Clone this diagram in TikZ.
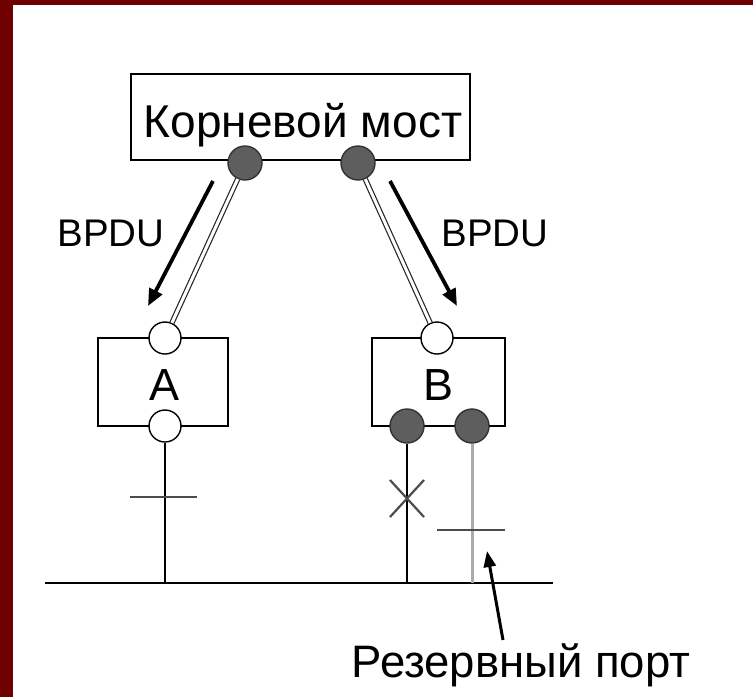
\documentclass[tikz,border=0pt]{standalone}
\usepackage{fontspec}
\setmainfont{Liberation Sans}
\usetikzlibrary{arrows.meta}
\definecolor{frame}{HTML}{6F0000}
\definecolor{portdark}{HTML}{5E5E5E}
\definecolor{backup}{HTML}{AAAAAA}
\tikzset{
  box/.style={draw, line width=2.6pt, fill=white, inner sep=0pt},
  portw/.style={circle, draw, line width=1.4pt, fill=white, minimum size=32pt, inner sep=0pt},
  portd/.style={circle, draw=black!80, line width=1.4pt, fill=portdark, minimum size=34pt, inner sep=0pt},
  link/.style={draw=black!85, line width=1.2pt, double=white, double distance=3pt},
  flow/.style={line width=3.8pt, -{Triangle[length=17pt,width=14pt]}},
  wire/.style={line width=2.8pt},
  tick/.style={line width=1.8pt, draw=black!70},
  lbl/.style={inner sep=0pt, anchor=base}
}
\begin{document}
\begin{tikzpicture}[x=1pt,y=-1pt]
\useasboundingbox (0,0) rectangle (753,697);
\fill[frame] (0,0) rectangle (753,697);
\fill[white] (13,5) rectangle (753,697);

% boxes
\node[box, minimum width=339pt, minimum height=86pt] (root) at (300.5,117) {};
\node[lbl, font=\fontsize{46}{46}\selectfont] (roottxt) at (303,137) {Корневой мост};
\node[box, minimum width=130pt, minimum height=88pt] (boxA) at (163,382) {};
\node[box, minimum width=133pt, minimum height=88pt] (boxB) at (438.5,382) {};
\node[lbl, font=\fontsize{45}{45}\selectfont] (txtA) at (165,400) {A};
\node[lbl, font=\fontsize{45}{45}\selectfont] (txtB) at (439,400) {B};

% ports
\node[portd] (r1) at (245,163) {};
\node[portd] (r2) at (358,163) {};
\node[portw] (a1) at (165,338) {};
\node[portw] (a2) at (165,426) {};
\node[portw] (b1) at (437,338) {};
\node[portd] (b2) at (407,426) {};
\node[portd] (b3) at (472,426) {};

% links
\draw[link] (r1) -- (a1);
\draw[link] (r2) -- (b1);

% BPDU arrows
\coordinate (f1s) at (213,181);
\coordinate (f1e) at (148,306);
\coordinate (f2s) at (390,181);
\coordinate (f2e) at (457,306);
\draw[flow] (f1s) -- (f1e);
\draw[flow] (f2s) -- (f2e);
\node[lbl, font=\fontsize{38.5}{38.5}\selectfont] (bp1) at (111,246) {BPDU};
\node[lbl, font=\fontsize{38.5}{38.5}\selectfont] (bp2) at (495,246) {BPDU};

% bus
\coordinate (busL) at (45,583);
\coordinate (busR) at (553,583);
\draw[wire] (busL) -- (busR);
\coordinate (ba) at (165,583);
\coordinate (bb) at (407,583);
\coordinate (bc) at (472,583);
\draw[wire] (a2) -- (ba);
\draw[wire] (b2) -- (bb);
\draw[wire, draw=backup, line width=3pt] (b3) -- (bc);

% ticks / cross
\coordinate (tA1) at (130,497);
\coordinate (tA2) at (197,497);
\draw[tick] (tA1) -- (tA2);
\coordinate (tB1) at (437,530);
\coordinate (tB2) at (505,530);
\draw[tick] (tB1) -- (tB2);
\coordinate (x1) at (390,480);
\coordinate (x2) at (424,517);
\coordinate (x3) at (390,517);
\coordinate (x4) at (424,480);
\draw[tick, line width=2.2pt] (x1) -- (x2);
\draw[tick, line width=2.2pt] (x3) -- (x4);

% reserve port label
\node[lbl, font=\fontsize{45.5}{45.5}\selectfont] (res) at (521,677) {Резервный порт};
\coordinate (rs) at (503,640);
\coordinate (re) at (487,551);
\draw[line width=3pt, -{Triangle[length=16pt,width=12pt]}] (rs) -- (re);
\end{tikzpicture}
\end{document}
